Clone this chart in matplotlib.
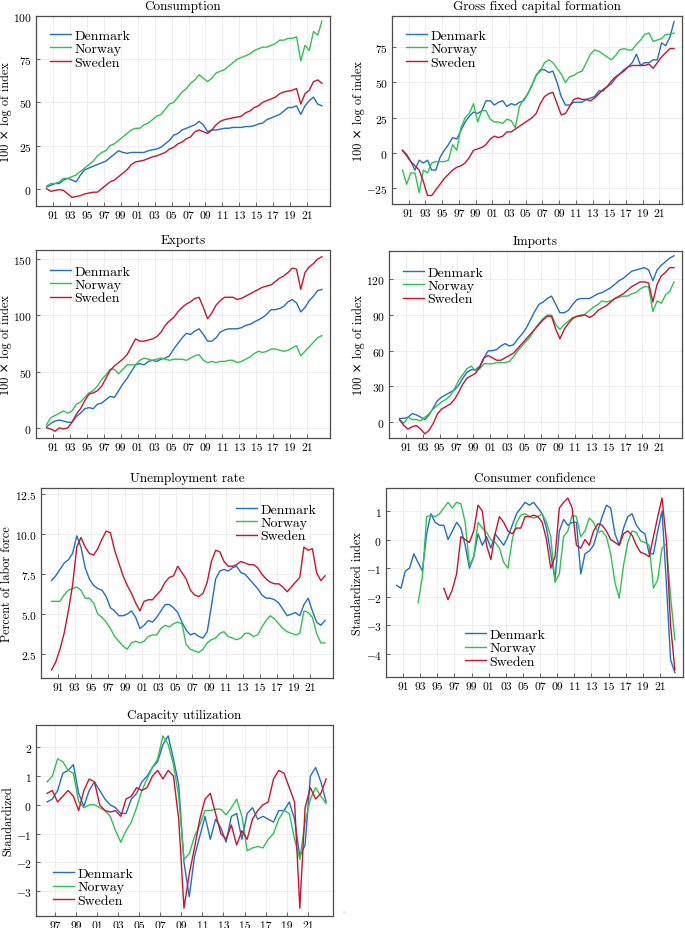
import numpy as np
import matplotlib.pyplot as plt

plt.rcParams.update({
    'font.family': ['cmr10', 'DejaVu Serif'],
    'mathtext.fontset': 'cm',
    'axes.formatter.use_mathtext': True,
})

nan = np.nan
# half-year grid (quarter 2 and quarter 4 of each year)
years = np.arange(1990.25, 2022.76, 0.5)
capu_years = np.arange(1996.25, 2022.76, 0.5)
countries = ['Denmark', 'Norway', 'Sweden']
colors = ['#1f6fc2', '#2fc252', '#c8142f']

cons_dk = [1, 2, 3, 3, 5, 6, 5, 4, 8, 11,
           12, 13, 14, 15, 16, 18, 20, 22, 21, 20.5,
           21, 21, 21, 21, 22, 22.5, 23, 24, 26, 28,
           31, 32, 34, 35, 36, 37, 39, 37, 33, 34,
           34, 34.5, 35, 35, 35.5, 35.5, 35.5, 36, 36, 36.5,
           37.5, 38, 40, 41, 42, 43, 45, 47, 47, 48,
           43, 48, 51, 53, 49, 48]
cons_no = [1.5, 3, 3, 4, 6, 6, 7, 8, 10, 12,
           14, 16, 19, 21, 22, 25, 26, 28, 30, 32,
           34, 35, 35, 37, 38, 40, 42, 43, 46, 49,
           50, 53, 56, 58, 61, 63, 66, 64, 62, 64,
           67, 68, 69, 71, 73, 75, 76, 77, 78, 80,
           81, 82, 82, 83, 84, 86, 86, 87, 87, 88,
           74, 83, 80, 91, 89, 97]
cons_se = [0, -1.5, -1, -0.5, -1, -3, -5, -4.5, -4, -3,
           -2.5, -2, -2, 0, 2, 4, 5, 7, 9, 11,
           14, 15.5, 16, 16.5, 17.5, 18.5, 19, 20, 21, 23,
           24, 26, 27, 29, 30, 33, 34, 33, 32, 34,
           37, 39, 40, 40.5, 41, 41.5, 42, 44, 45, 47,
           48, 50, 51, 52, 53, 55, 56, 56.5, 57, 58,
           49, 55, 57, 62, 63, 61]

gfcf_dk = [2, -2, -6, -12, -5, -7, -5, -12, -12, -3,
           2, 6, 11, 10, 16, 22, 26, 29, 28, 30,
           37, 37, 34, 36, 37, 33, 35, 34, 36, 37,
           42, 48, 55, 59, 59, 57, 58, 50, 40, 34,
           34, 36, 36, 36, 38, 39, 40, 44, 44, 47,
           49, 53, 56, 59, 61, 64, 70, 62, 64, 64,
           66, 66, 78, 76, 82, 93]
gfcf_no = [-12, -22, -14, -14, -28, -12, -14, -7, -6, -6,
           -6, -5, 6, 2, 18, 25, 28, 35, 22, 30,
           30, 24, 22, 22, 21, 24, 23, 18, 33, 38,
           42, 48, 55, 58, 64, 66, 64, 60, 56, 50,
           54, 55, 57, 58, 64, 70, 73, 72, 70, 68,
           66, 69, 73, 74, 73, 73, 77, 80, 84, 85,
           79, 80, 81, 84, 84, 85]
gfcf_se = [2, -1, -6, -9, -12, -20, -30, -30, -26, -22,
           -18, -15, -12, -10, -9, -7, -3, 2, 3, 4,
           6, 10, 12, 11, 12, 15, 15, 17, 19, 21,
           23, 25, 28, 35, 40, 42, 43, 35, 27, 28,
           33, 38, 39, 38, 38, 37, 39, 42, 45, 47,
           51, 54, 56, 58, 61, 62, 62, 62, 62, 63,
           60, 64, 68, 71, 74, 74]

exp_dk = [1, 4, 6, 7, 6, 5, 5, 10, 13, 17,
          18, 17, 21, 22, 25, 28, 27, 33, 39, 44,
          50, 56, 57, 56, 59, 60, 59, 61, 62, 64,
          70, 75, 80, 84, 83, 86, 88, 83, 77, 77,
          80, 85, 87, 88, 88, 88, 89, 91, 92, 94,
          96, 98, 101, 105, 105, 106, 108, 112, 114, 111,
          103, 107, 113, 117, 122, 123]
exp_no = [3, 9, 11, 13, 15, 13, 15, 21, 23, 27,
          31, 33, 37, 43, 47, 52, 52, 48, 52, 56,
          56, 56, 60, 62, 61, 60, 61, 62, 61, 60,
          61, 61, 61, 60, 62, 64, 65, 60, 58, 59,
          58, 59, 59, 60, 60, 58, 59, 61, 63, 66,
          68, 67, 68, 70, 70, 69, 68, 69, 71, 73,
          64, 68, 72, 76, 80, 82]
exp_se = [0, -1, -3, 0, -1, 0, 5, 12, 17, 24,
          30, 31, 33, 37, 44, 51, 55, 58, 61, 65,
          72, 79, 77, 77, 78, 79, 81, 85, 91, 95,
          98, 103, 107, 110, 112, 115, 116, 107, 97, 102,
          109, 113, 116, 116, 116, 114, 115, 117, 119, 121,
          123, 125, 126, 127, 130, 133, 135, 138, 142, 141,
          123, 138, 143, 146, 150, 152]

imp_dk = [3, 3, 4, 7, 6, 4, 2, 6, 12, 18,
          21, 23, 25, 27, 31, 37, 42, 44, 44, 47,
          54, 60, 60, 61, 64, 66, 64, 65, 70, 74,
          79, 86, 93, 99, 101, 104, 106, 99, 92, 92,
          94, 99, 103, 104, 104, 104, 106, 108, 109, 111,
          113, 116, 119, 121, 124, 127, 128, 129, 130, 128,
          119, 128, 132, 135, 138, 140]
imp_no = [2, -1, 4, 2, 2, 1, 4, 7, 11, 14,
          17, 19, 22, 28, 35, 40, 45, 47, 43, 45,
          49, 49, 49, 50, 50, 50, 51, 55, 60, 64,
          68, 72, 78, 83, 87, 90, 90, 82, 78, 82,
          85, 88, 89, 89, 91, 94, 97, 99, 102, 101,
          102, 104, 105, 106, 106, 108, 109, 112, 114, 114,
          93, 102, 100, 107, 110, 118]
imp_se = [2, -3, -6, -4, -3, -6, -10, -7, -1, 7,
          11, 13, 15, 19, 25, 32, 37, 39, 41, 46,
          54, 56, 54, 52, 52, 54, 56, 58, 62, 66,
          70, 74, 78, 82, 86, 89, 89, 78, 70, 78,
          83, 87, 89, 90, 90, 88, 90, 94, 96, 98,
          101, 104, 106, 108, 111, 114, 116, 118, 118, 117,
          101, 116, 123, 126, 130, 130]

unemp_dk = [7.1, 7.4, 7.8, 8.2, 8.4, 8.8, 9.9, 9.2, 7.9, 7.2,
            6.8, 6.6, 6.5, 6.1, 5.4, 5.2, 4.9, 4.9, 5.0, 5.2,
            4.8, 4.1, 4.3, 4.6, 4.5, 4.8, 5.2, 5.6, 5.6, 5.4,
            5.1, 4.5, 4.0, 3.7, 3.8, 3.6, 3.5, 3.9, 5.5, 7.2,
            7.7, 7.8, 7.7, 7.9, 8.0, 7.6, 7.5, 7.2, 6.9, 6.6,
            6.2, 6.0, 6.0, 5.9, 5.7, 5.3, 4.9, 5.0, 5.1, 4.9,
            5.6, 6.0, 5.2, 4.5, 4.3, 4.6]
unemp_no = [5.8, 5.8, 5.8, 6.2, 6.5, 6.6, 6.7, 6.5, 6.0, 6.0,
            5.7, 5.0, 4.8, 4.5, 4.1, 3.6, 3.3, 3.0, 2.8, 3.2,
            3.3, 3.2, 3.3, 3.6, 3.7, 3.7, 4.1, 4.3, 4.2, 4.4,
            4.5, 4.4, 3.1, 2.8, 2.7, 2.6, 2.8, 3.2, 3.4, 3.5,
            3.8, 3.9, 3.6, 3.5, 3.4, 3.5, 3.8, 3.8, 3.6, 3.7,
            4.2, 4.6, 4.9, 4.7, 4.4, 4.1, 3.9, 3.8, 3.7, 3.8,
            5.2, 5.1, 4.8, 3.8, 3.2, 3.2]
unemp_se = [1.5, 2.0, 2.8, 3.8, 5.2, 6.8, 9.2, 9.8, 9.2, 8.8,
            8.7, 9.1, 9.7, 10.2, 10.1, 9.0, 8.2, 7.4, 6.8, 6.3,
            5.7, 5.2, 5.8, 5.9, 5.9, 6.2, 6.5, 7.0, 7.3, 7.4,
            8.0, 7.6, 7.2, 6.5, 6.2, 6.1, 6.3, 7.0, 8.3, 9.0,
            8.9, 8.3, 8.0, 8.0, 8.1, 8.3, 8.2, 8.1, 8.1, 7.9,
            7.5, 7.2, 7.0, 6.9, 6.9, 6.7, 6.4, 6.7, 7.0, 7.3,
            9.2, 9.0, 9.1, 7.6, 7.1, 7.4]

conf_dk = [-1.6, -1.7, -1.1, -1.0, -0.5, -0.8, -1.1, 0.2, 0.9, 0.6,
           0.5, 0.5, 0.0, 0.3, 0.6, 0.4, -0.2, -1.0, -0.6, 0.2,
           -0.2, 0.1, -0.3, 0.2, 0.0, -0.2, 0.1, 0.5, 0.9, 1.1,
           1.3, 1.2, 1.3, 1.1, 0.9, 0.4, -0.5, -1.4, 0.3, 0.7,
           0.5, 0.6, 0.6, -1.2, -0.5, -0.4, -0.2, 0.3, 0.8, 1.2,
           1.1, 0.2, -0.2, 0.4, 0.8, 0.9, 0.5, 0.3, 0.2, -0.5,
           -0.5, 0.3, 1.0, -1.5, -4.2, -4.65]
conf_no = [nan, nan, nan, nan, nan, -2.2, -1.3, 0.8, 0.85, 0.8,
           0.9, 1.1, 1.3, 1.1, 1.3, 1.25, 0.6, -0.9, -0.6, 0.6,
           0.4, 0.25, 0.0, -0.1, -0.3, -0.8, -1.0, 0.0, 0.6, 0.85,
           0.9, 0.8, 0.75, 0.8, 0.9, 0.6, 0.1, -1.5, -1.2, 0.1,
           0.3, 0.85, 0.8, 0.1, 0.3, 0.75, 0.6, 0.25, 0.3, 0.1,
           -0.5, -1.5, -2.05, -0.9, -0.1, 0.3, 0.25, -0.05, -0.1, -0.2,
           -1.7, -1.4, -0.3, -0.15, -2.0, -3.5]
conf_se = [nan, nan, nan, nan, nan, nan, nan, nan, nan, nan,
           nan, -1.7, -2.1, -1.75, -1.2, 0.1, 0.0, -0.1, 0.3, 1.2,
           1.0, -0.2, -0.7, 0.2, 0.8, 0.6, 0.3, 0.2, 0.4, 0.4,
           0.8, 0.8, 0.85, 0.8, 0.6, 0.0, -1.0, -0.6, 1.1, 1.3,
           1.45, 1.1, -0.2, -0.3, 0.0, -0.2, 0.3, 0.55, 0.5, 0.3,
           0.0, -0.1, -0.2, 0.2, 0.3, 0.15, -0.2, -0.45, -0.5, -0.6,
           0.1, 0.8, 1.45, 0.0, -3.0, -4.55]

capu_dk = [0.1, 0.2, 0.5, 1.1, 1.2, 1.4, 0.4, -0.05, 0.5, 0.8,
           0.5, 0.2, 0.0, -0.1, -0.3, -0.3, 0.2, 0.4, 0.8, 1.0,
           1.3, 1.5, 2.1, 2.4, 1.6, 0.7, -2.0, -3.2, -1.8, -1.1,
           -0.4, -1.2, -0.5, -0.8, -1.3, -0.4, -0.3, -1.2, -0.3, -0.1,
           -0.5, -0.4, -0.5, -0.6, -0.2, -0.2, 0.1, -0.5, -1.8, -1.4,
           1.0, 1.3, 0.8, 0.1]
capu_no = [0.8, 1.0, 1.6, 1.5, 1.2, 1.1, 0.1, -0.1, 0.0, 0.0,
           -0.1, -0.2, -0.4, -0.9, -1.3, -0.9, -0.6, -0.1, 0.5, 0.9,
           1.3, 1.6, 2.4, 2.1, 1.4, 0.3, -1.9, -1.7, -1.1, -0.7,
           -0.2, -0.2, -0.15, -0.15, -0.35, -0.1, 0.2, -0.4, -1.6, -1.5,
           -1.45, -1.5, -1.2, -1.0, -0.5, -0.2, -0.3, -1.2, -1.9, -0.6,
           0.2, 0.6, 0.3, 0.05]
capu_se = [0.4, 0.5, 0.1, 0.3, 0.5, 0.3, -0.2, 0.5, 0.9, 0.8,
           0.0, -0.2, -0.25, -0.2, -0.4, 0.2, 0.3, 0.6, 0.5, 0.6,
           1.0, 1.2, 0.9, 1.2, 1.0, -0.5, -3.6, -2.4, -1.5, -0.5,
           0.2, 0.4, -0.3, -1.0, -1.2, -0.7, -1.4, -0.9, -1.2, -0.5,
           -0.2, 0.0, 0.1, 0.9, 1.2, 1.1, 0.6, 0.1, -3.6, -0.1,
           0.6, 0.2, 0.4, 0.9]

year_ticks = list(range(1991, 2022, 2))
capu_ticks = list(range(1997, 2022, 2))

fig = plt.figure(figsize=(6.85, 9.29), dpi=100)


def panel(rect, x, series, title, ylabel, xlim, ylim, yticks, xticks, leg):
    ax = fig.add_axes(rect)
    for y, c, name in zip(series, colors, countries):
        ax.plot(x, y, color=c, lw=1.0, label=name)
    ax.set_xlim(*xlim)
    ax.set_ylim(*ylim)
    ax.set_xticks(xticks, ['%02d' % (t % 100) for t in xticks])
    ax.set_yticks(yticks)
    ax.grid(True, color='#ebebeb', lw=0.6)
    ax.set_axisbelow(True)
    for s in ax.spines.values():
        s.set_color('#4d4d4d')
        s.set_linewidth(0.9)
    ax.tick_params(direction='in', length=3, width=0.6, color='#4d4d4d',
                   labelsize=8.3, pad=3, top=False, right=False)
    ax.set_title(title, fontsize=9.5, pad=5)
    ax.set_ylabel(ylabel, fontsize=8.8, labelpad=1)
    ax.legend(frameon=False, fontsize=10, handlelength=1.5,
              handletextpad=0.25, labelspacing=0.05, borderpad=0.3, **leg)
    return ax


W, H = 685, 929


def rect(l, r, t, b):
    return [l / W, 1 - b / H, (r - l) / W, (b - t) / H]


lab = '100 × log of index'
full = (1989.0, 2023.7)

panel(rect(36, 330, 17, 207), years, [cons_dk, cons_no, cons_se],
      'Consumption', lab, full, (-10, 100), [0, 25, 50, 75, 100],
      year_ticks, dict(loc='upper left', bbox_to_anchor=(0.01, 0.99)))
panel(rect(392, 682, 17, 205), years, [gfcf_dk, gfcf_no, gfcf_se],
      'Gross fixed capital formation', lab, full, (-36, 97),
      [-25, 0, 25, 50, 75], year_ticks,
      dict(loc='upper left', bbox_to_anchor=(0.01, 0.99)))
panel(rect(36, 330, 251, 439), years, [exp_dk, exp_no, exp_se],
      'Exports', lab, full, (-9, 158), [0, 50, 100, 150],
      year_ticks, dict(loc='upper left', bbox_to_anchor=(0.01, 0.98)))
panel(rect(389, 682, 252, 439), years, [imp_dk, imp_no, imp_se],
      'Imports', lab, full, (-13.5, 144), [0, 30, 60, 90, 120],
      year_ticks, dict(loc='upper left', bbox_to_anchor=(0.01, 0.98)))
panel(rect(41, 333, 489, 679), years, [unemp_dk, unemp_no, unemp_se],
      'Unemployment rate', 'Percent of labor force', full, (1.0, 12.9),
      [2.5, 5.0, 7.5, 10.0, 12.5], year_ticks,
      dict(loc='upper right', bbox_to_anchor=(0.98, 0.98)))
panel(rect(386, 683, 489, 678), years, [conf_dk, conf_no, conf_se],
      'Consumer confidence', 'Standardized index', full, (-4.8, 1.8),
      [-4, -3, -2, -1, 0, 1], year_ticks,
      dict(loc='lower left', bbox_to_anchor=(0.23, -0.01)))
panel(rect(36, 333, 726, 917), capu_years, [capu_dk, capu_no, capu_se],
      'Capacity utilization', 'Standardized', (1995.2, 2023.4),
      (-3.87, 2.78), [-3, -2, -1, 0, 1, 2], capu_ticks,
      dict(loc='lower left', bbox_to_anchor=(0.02, -0.01)))

fig.text(344 / W, 1 - 913 / H, r'$\circ$', fontsize=4, color='#888888',
         ha='center', va='center')

fig.savefig('out.png', dpi=100)
